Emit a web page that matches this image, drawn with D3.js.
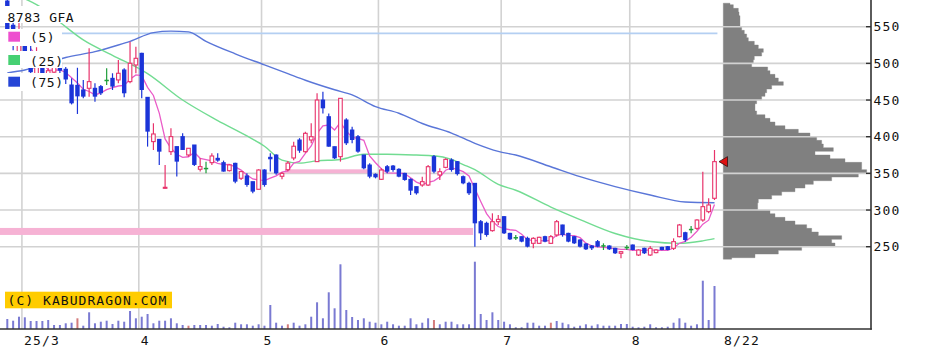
<!DOCTYPE html>
<html><head><meta charset="utf-8">
<script src="https://cdn.jsdelivr.net/npm/d3@7"></script>
<style>body{margin:0;background:#fff;} svg{display:block;font-family:"DejaVu Sans Mono",monospace;}</style>
</head><body><svg id="c" width="929" height="356"></svg>
<script>
// ---- data ----
const opens  = [585,552,515,540,505,485,498,482,488,498,492,470.5,470,463.7,466,466,468.3,477,479.6,477.4,491,475.1,497.8,513.7,453.7,393.3,396.4,329.7,379.6,386.5,400.1,375.1,388.7,355.6,356.9,364.6,370.5,364.6,353.7,363.7,343.3,346.5,338.7,328.3,354.6,371.9,375,346,355,371,395.5,379.6,395.5,366,450,427.3,386.4,372.8,422.8,409.1,400,375,361.4,348.7,341.9,359.1,360,355.5,350,341.9,331.9,334.1,334.1,372.8,347.8,358.2,368.2,366,345.5,336.4,336.4,284.1,281.9,271.9,284.1,291,268.2,262.5,263.7,261.4,254.6,254.6,263.7,254.6,266,279.6,268.2,263.7,259.1,253.7,251,256.9,251.4,251,247.8,241,249.1,252.3,238.7,247.8,238.7,241.9,249.1,250,247.8,263.7,269.1,273.7,275,286.4,297.8,316];
const highs  = [590,556,556,545,525,522,502,494,503,500,495,479.6,494,477.4,520.5,472.8,470.5,493.3,486.5,504.6,493.3,529.6,522.8,514.5,453.7,418.3,396.4,361.5,411.5,386.5,404.6,384.2,388.7,370.5,366,377.4,377.4,367.4,362.8,364.6,352.4,350.1,338.7,355.6,355.6,377.4,376,352,367,393,398,406.9,418.2,459.1,461.4,431.8,386.4,452.3,425,413.7,402.3,375,363.7,350,356.9,361.4,361.4,356.9,351,343.2,331.9,345.5,361.4,375,356.9,370.5,370.5,367,347,338.7,337,286.4,284.1,295.5,293.2,291.9,269,265.9,264,263.7,262.8,263.7,265,266,286.4,280,269,264.6,260,254.6,252.3,259.1,254.6,252,248.5,243.8,252.3,253,246.4,248.5,251,246.4,250,251,261.4,281,270.5,278.2,287.3,352.3,315.9,381.9];
const lows   = [540,518,512,495,484,480,478,476,485,484,472,444,431,452.4,454.6,447.8,456.9,470.5,463.7,472.8,453.7,472.8,486.5,452.4,386.5,381.9,361.5,329,375.1,345.6,381.9,372.8,360.1,352.4,350.1,361.5,366,352.4,352.4,336.5,341,331.9,322.8,328.3,331.9,352.4,348,342,353,368,378,378.2,391,366,431.8,386.4,369.6,366,388.7,391,378.2,355.5,343.2,343.2,341,350,352.3,344.6,340,320.5,321,331.9,332.8,350,341,356.9,352.3,347,335,320.5,250,259.1,263.7,270.5,279.6,267.3,259,259.1,256,249.1,247.8,253.7,256,253.7,263.7,263.7,256,253.7,249,245.5,245.5,249.1,245.5,245.5,240,234.2,245.5,245,237.3,240,237.3,241,245,245,245.5,262.8,256.9,268.2,272.8,284.1,295.5,313.7];
const closes = [545,528,540,500,488,495,482,490,498,490,478,445.5,455,454.6,475.1,454.6,459.2,477,468.3,486.5,459.2,500.1,506.9,463.7,406.9,403.7,379.6,331,400.1,366,381.9,384.2,361.5,359.2,356.9,373.7,367.4,352.4,361.5,338.7,352.4,334.2,325.1,354.6,334.2,369.2,350,350,364,387,380.9,404.6,400,450,438.7,386.4,370.5,452.3,391,395.5,379.6,356.9,345.5,344.6,354.6,352.3,354.6,345.5,341,326.4,322.8,338.7,359.1,352.3,352.3,369.1,354.6,349,336.4,322.8,281.9,268.2,266,284.1,287.3,268.2,260,262.5,256.9,250,261.4,262.8,256.9,263.7,284.1,266,256.9,254.6,250,246.4,247.8,250,251.4,246.4,241,243.2,249.1,245.5,245.5,241,247.8,245.5,245.5,245.5,256.9,279.6,259.1,273.7,286.4,304.6,306.9,366];
const volumes = [100,83,123,117,80,80,80,90,40,40,57,63,107,33,167,57,73,83,50,83,73,180,107,123,150,57,83,83,107,57,40,33,40,40,40,33,50,23,17,63,47,47,33,47,33,240,63,33,47,63,33,47,123,267,107,367,207,647,190,120,90,107,73,63,47,73,47,33,33,107,47,63,107,90,47,73,73,47,47,47,673,150,90,167,90,73,47,17,17,63,63,33,33,63,80,63,47,23,33,47,33,47,33,33,33,50,50,23,17,23,47,17,17,23,63,107,63,33,47,483,90,430];
const volRedDays = [12,31,48,73,93];

const ma25Idx = [0,3,5,9,13,18,24,30,36,41,44,47,50,53,57,61,65,70,73,76,78,80,84,87,93,98,104,110,115,119,121];
const ma25Val = [600,588,580,556,532,511,486,450,422,401,387,368,364,367,369,376,376,375,374,369,362,355,335,327,304,287,268,257,254.5,258,261];
const ma75Idx = [0,3,10,15,19,21,25,28,31,34,39,44,48,51,56,59,63,67,71,76,80,84,87,93,98,104,110,116,121];
const ma75Val = [487,491,508,516,525,530,542,544,543,530,513,498,486,477,464,457,441,432,418,405,391,380,375,359,345.5,332,320.5,311,310];

const profileLow = [230,235,240,245,250,255,260,265,270,275,280,285,290,295,300,305,310,315,320,325,330,335,340,345,350,355,360,365,370,375,380,385,390,395,400,405,410,415,420,425,430,435,440,445,450,455,460,465,470,475,480,485,490,495,500,505,510,515,520,525,530,535,540,545,550,555,560,565,570,575,580];
const profileVol = [25,95,165,235,335,325,355,285,265,250,215,185,155,140,103,103,105,145,175,215,245,270,325,405,430,415,415,365,320,275,330,300,295,280,260,225,185,155,140,125,100,95,95,100,115,125,130,145,180,165,155,140,133,85,90,93,115,120,105,93,75,70,63,55,50,50,50,47,45,30,20];
const profileRange = [233, 582];

const priceTicks = [250,300,350,400,450,500,550];
const dateLabels = ["25/3","4","5","6","7","8","8/22"];
const dateIdx = [3,23,44,64,85,107,121];

const supportBands = [{price:270.8, from:-2, to:79.7, h:7}, {price:352.8, from:47.5, to:62, h:4}];
const highLinePrice = 541;
const highLineSpan = [0, 121.5];

// ---- layout ----
const plotR = 871, base = 329;
const svg = d3.select("#c");
const x = d3.scaleLinear().domain([0,121]).range([7.3, 714.5]);
const y = d3.scaleLinear().domain([250,550]).range([246.7, 26.7]);
const yv = d3.scaleLinear().domain([0,700]).range([base, base-70]);
const xp = d3.scaleLinear().domain([0,450]).range([723.3, 873.3]);

svg.append("defs").append("clipPath").attr("id","plot")
  .append("rect").attr("x",0).attr("y",0).attr("width",plotR).attr("height",base);
const g = svg.append("g").attr("clip-path","url(#plot)");

// volume profile as one step path
const pp = d3.path();
pp.moveTo(xp(0), y(profileRange[0]));
profileLow.forEach((p,i)=>{
  const lo = Math.max(p, profileRange[0]), hi = Math.min(p+5, profileRange[1]);
  pp.lineTo(xp(profileVol[i]), y(lo));
  pp.lineTo(xp(profileVol[i]), y(hi));
});
pp.lineTo(xp(0), y(profileRange[1]));
pp.closePath();
g.append("path").attr("d", pp.toString()).attr("fill","#808080").attr("stroke","#808080").attr("stroke-width",0.4);

// grid
g.append("g").selectAll("line").data(priceTicks).join("line")
  .attr("x1",0).attr("x2",plotR).attr("y1",d=>y(d)).attr("y2",d=>y(d))
  .attr("stroke","#d2d2d2").attr("stroke-width",1.6);
g.append("g").selectAll("line").data(dateIdx.slice(0,6)).join("line")
  .attr("x1",d=>x(d-0.5)).attr("x2",d=>x(d-0.5)).attr("y1",0).attr("y2",base)
  .attr("stroke","#d2d2d2").attr("stroke-width",1.6);

// bands
g.append("g").selectAll("rect").data(supportBands).join("rect")
  .attr("x",d=>x(d.from)).attr("width",d=>x(d.to)-x(d.from))
  .attr("y",d=>y(d.price)-d.h/2).attr("height",d=>d.h)
  .attr("fill","#f6b2d4");
g.append("line").attr("x1",x(highLineSpan[0])).attr("x2",x(highLineSpan[1]))
  .attr("y1",y(highLinePrice)).attr("y2",y(highLinePrice))
  .attr("stroke","#b4cff2").attr("stroke-width",1.8);

// volume
g.append("g").selectAll("rect").data(volumes).join("rect")
  .attr("x",(d,i)=>x(i)-1).attr("width",2)
  .attr("y",d=>yv(d)).attr("height",d=>base-yv(d))
  .attr("fill",(d,i)=>volRedDays.includes(i)?"#d47c7c":"#7a7ad2");

// moving averages
g.append("path").datum(ma75Idx.map((d,i)=>[d,ma75Val[i]]))
  .attr("d", d3.line().x(d=>x(d[0])).y(d=>y(d[1])).curve(d3.curveMonotoneX))
  .attr("fill","none").attr("stroke","#5a76d8").attr("stroke-width",1.4);
g.append("path").datum(ma25Idx.map((d,i)=>[d,ma25Val[i]]))
  .attr("d", d3.line().x(d=>x(d[0])).y(d=>y(d[1])).curve(d3.curveMonotoneX))
  .attr("fill","none").attr("stroke","#72dc92").attr("stroke-width",1.4);
const ma5 = [];
for (let i=4;i<closes.length;i++) ma5.push([i, d3.mean(closes.slice(i-4,i+1))]);
g.append("path").datum(ma5)
  .attr("d", d3.line().x(d=>x(d[0])).y(d=>y(d[1]))).attr("fill","none").attr("stroke","#ea5cc8").attr("stroke-width",1.3);

// candles
const col = i => closes[i]>opens[i] ? "#e8336b" : (closes[i]<opens[i] ? "#1b34d8" : "#1f9e3a");
const cg = g.append("g");
closes.forEach((c,i)=>{
  const o = opens[i], cx = x(i), colr = col(i);
  cg.append("line").attr("x1",cx).attr("x2",cx).attr("y1",y(highs[i])).attr("y2",y(lows[i]))
    .attr("stroke",colr).attr("stroke-width",1.2);
  const top = y(Math.max(o,c)), bot = y(Math.min(o,c));
  if (c>o) {
    cg.append("rect").attr("x",cx-1.8).attr("width",3.6).attr("y",top).attr("height",Math.max(bot-top,1))
      .attr("fill","#fff").attr("stroke",colr).attr("stroke-width",1.1);
  } else {
    cg.append("rect").attr("x",cx-2.2).attr("width",4.4).attr("y",top-0.5).attr("height",Math.max(bot-top,1)+0.5)
      .attr("fill",colr);
  }
});

// last price marker
const last = closes.length-1;
svg.append("path")
  .attr("d", d3.line()([[x(last)+4.5, y(closes[last])],[x(last)+13, y(closes[last])-5],[x(last)+13, y(closes[last])+5]])+"Z")
  .attr("fill","#dd1111").attr("stroke","#331111").attr("stroke-width",0.8);

// legend
const leg = svg.append("g");
[[0,6,80,17],[0,29,62,17],[0,51,62,17],[0,73,62,18]].forEach(r=>
  leg.append("rect").attr("x",r[0]).attr("y",r[1]).attr("width",r[2]).attr("height",r[3]).attr("fill","#fff"));
leg.append("text").attr("x",7.5).attr("y",21.7).attr("font-size",13).attr("letter-spacing",0.5).attr("fill","#111").text("8783 GFA");
const legItems = [{t:"(5)",c:"#ee4fcf",yy:31.7},{t:"(25)",c:"#46d072",yy:55},{t:"(75)",c:"#2545d6",yy:76.7}];
legItems.forEach(d=>{
  leg.append("rect").attr("x",8.3).attr("y",d.yy).attr("width",11.7).attr("height",10).attr("fill",d.c);
  leg.append("text").attr("x",30).attr("y",d.yy+10.5).attr("font-size",13).attr("letter-spacing",0.6).attr("fill","#111").text(d.t);
});

// copyright badge
svg.append("rect").attr("x",5).attr("y",291.7).attr("width",167).attr("height",16.6).attr("fill","#ffcc00");
svg.append("text").attr("x",7.5).attr("y",305).attr("font-size",13).attr("letter-spacing",1.05).attr("fill","#111").text("(C) KABUDRAGON.COM");

// axes
svg.append("line").attr("x1",plotR).attr("x2",plotR).attr("y1",0).attr("y2",base+0.8).attr("stroke","#333").attr("stroke-width",1.6);
svg.append("line").attr("x1",0).attr("x2",plotR+0.8).attr("y1",base).attr("y2",base).attr("stroke","#333").attr("stroke-width",1.6);
const ya = svg.append("g");
priceTicks.forEach(t=>{
  ya.append("line").attr("x1",plotR-5).attr("x2",plotR).attr("y1",y(t)).attr("y2",y(t)).attr("stroke","#333").attr("stroke-width",1.4);
  ya.append("text").attr("x",plotR+2.5).attr("y",y(t)+4.6).attr("font-size",13).attr("letter-spacing",1.2).attr("fill","#111").text(t);
});
dateLabels.forEach((t,k)=>{
  const xx = k<dateLabels.length-1 ? x(dateIdx[k]-0.5)+2 : x(dateIdx[k])+9.5;
  svg.append("text").attr("x",xx).attr("y",345).attr("font-size",13).attr("letter-spacing",1.2).attr("fill","#111").text(t);
});
</script></body></html>
